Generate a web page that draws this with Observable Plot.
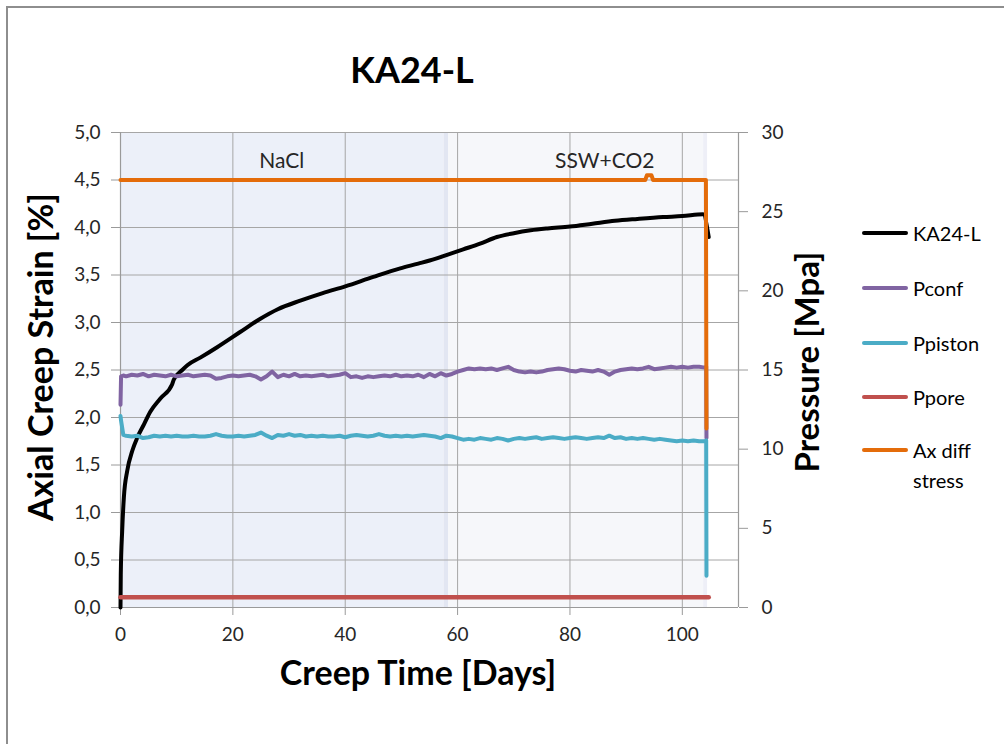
<!DOCTYPE html>
<html><head><meta charset="utf-8">
<script src="https://cdn.jsdelivr.net/npm/d3@7"></script>
<script src="https://cdn.jsdelivr.net/npm/@observablehq/plot@0.6"></script>
<style>
html,body{margin:0;padding:0;background:#fff;overflow:hidden;width:1004px;height:744px;}
#wrap{position:relative;width:1004px;height:744px;font-family:Lato,"Open Sans",sans-serif;overflow:hidden;}
#frame{position:absolute;left:6px;top:6px;width:1100px;height:900px;border:2px solid #8e8e8e;box-sizing:border-box;}
#chart{position:absolute;left:0;top:0;}
.t{position:absolute;white-space:nowrap;color:#000;line-height:1;}
.rot{transform:translate(-50%,-50%) rotate(-90deg);}
.ctr{transform:translate(-50%,-50%);}
.lg{position:absolute;font-size:20px;color:#000;white-space:nowrap;line-height:30px;}
</style></head>
<body><div id="wrap">
<div id="frame"></div>
<div id="chart"></div>
<div class="t ctr" style="left:412px;top:69px;font-size:36px;font-weight:700;">KA24-L</div>
<div class="t ctr" style="left:418px;top:672px;font-size:34px;font-weight:700;">Creep Time [Days]</div>
<div class="t rot" style="left:40px;top:357px;font-size:34px;font-weight:700;">Axial Creep Strain [%]</div>
<div class="t rot" style="left:806px;top:362px;font-size:33px;font-weight:700;">Pressure [Mpa]</div>
<div id="legend"></div>
</div>
<script>
// ---- data ----
const seriesNames = ["KA24-L", "Pconf", "Ppiston", "Ppore", "Ax diff\nstress"];
const seriesColors = ["#000000", "#8064A2", "#4BACC6", "#C0504D", "#E46C0A"];

// axial creep strain [%]
const strainDays = [0, 0.05, 0.3, 0.6, 1.2, 2.1, 3.0, 4.2, 5.3, 7.1, 9.2, 9.5, 11.0, 11.9, 14.2, 17.2, 21.3, 24.9, 28, 32, 36, 40, 45, 49.8, 53, 56, 58, 61, 64, 67, 70, 73, 76, 80, 84, 88, 92, 96.6, 100, 103.7, 104.7];
const strainValues = [0, 0.35, 0.81, 1.16, 1.44, 1.65, 1.79, 1.93, 2.06, 2.20, 2.35, 2.40, 2.50, 2.55, 2.63, 2.74, 2.90, 3.04, 3.14, 3.23, 3.31, 3.38, 3.48, 3.57, 3.62, 3.67, 3.71, 3.77, 3.83, 3.90, 3.94, 3.97, 3.99, 4.01, 4.04, 4.07, 4.09, 4.11, 4.12, 4.14, 3.90];

// daily sampling days for pressures
const pDays = [0, 0.1, 0.5, 1,2,3,4,5,6,7,8,9,10,11,12,13,14,15,16,17,18,19,20,21,22,23,24,25,26,27,28,29,30,31,32,33,34,35,36,37,38,39,40,41,42,43,44,45,46,47,48,49,50,51,52,53,54,55,56,57,58,59,60,61,62,63,64,65,66,67,68,69,70,71,72,73,74,75,76,77,78,79,80,81,82,83,84,85,86,87,88,89,90,91,92,93,94,95,96,97,98,99,100,101,102,103,104,104.25,104.3];

// Pconf [MPa]
const pconfValues = [12.8, 14.6, 14.65,
 14.6,14.7,14.65,14.75,14.6,14.7,14.65,14.6,14.7,14.6,
 14.65,14.7,14.6,14.65,14.7,14.65,14.45,14.5,14.6,14.65,
 14.6,14.65,14.7,14.6,14.4,14.6,14.9,14.55,14.7,14.6,
 14.75,14.6,14.65,14.6,14.65,14.7,14.6,14.65,14.7,14.8,
 14.55,14.6,14.5,14.6,14.55,14.6,14.65,14.6,14.7,14.6,
 14.65,14.6,14.7,14.55,14.75,14.6,14.8,14.65,14.75,14.9,
 15.0,15.1,15.05,15.1,15.05,15.1,15.0,15.1,15.2,15.0,
 14.9,14.85,14.9,14.85,14.9,15.0,15.05,15.1,15.05,14.95,
 14.9,15.0,14.95,14.9,15.0,14.9,14.7,14.9,15.0,15.05,
 15.1,15.05,15.1,15.2,15.05,15.1,15.15,15.2,15.15,15.2,
 15.15,15.2,15.2,15.15, 15.2, 10.7];

// Ppiston [MPa]
const ppistonValues = [12.1, 11.8, 10.9,
 10.85,10.8,10.85,10.7,10.75,10.85,10.8,10.85,10.8,10.85,
 10.8,10.8,10.85,10.8,10.8,10.85,10.95,10.85,10.8,10.8,
 10.85,10.8,10.85,10.9,11.05,10.85,10.7,10.9,10.85,10.95,
 10.85,10.9,10.8,10.85,10.8,10.85,10.8,10.8,10.85,10.75,
 10.85,10.9,10.85,10.8,10.85,10.95,10.85,10.8,10.85,10.8,
 10.85,10.8,10.85,10.9,10.85,10.8,10.7,10.85,10.8,10.7,
 10.6,10.65,10.6,10.7,10.65,10.6,10.7,10.65,10.55,10.65,
 10.7,10.65,10.7,10.75,10.65,10.7,10.75,10.7,10.65,10.7,
 10.75,10.7,10.65,10.7,10.75,10.7,10.85,10.7,10.75,10.65,
 10.7,10.65,10.7,10.65,10.6,10.65,10.6,10.55,10.5,10.55,
 10.5,10.55,10.5,10.5, 10.55, 2.0];

// Ppore [MPa]
const pporeDays = [0, 104.7];
const pporeValues = [0.65, 0.65];

// Axial differential stress [MPa]
const axDays = [0, 93.4, 93.7, 94.5, 94.8, 104.2, 104.3];
const axValues = [27, 27, 27.3, 27.3, 27, 27, 11.3];

// background phases
const phaseStart = [0, 57.6, 58.4, 103.8];
const phaseEnd = [57.6, 58.4, 103.8, 104.5];
const phaseColor = ["#ECF0F9", "#E2E6F2", "#F6F7FA", "#EEEFF7"];
const phaseLabels = ["NaCl", "SSW+CO2"];
const phaseLabelDays = [28.7, 86.2];
const phaseLabelY = [4.7, 4.7];

// ticks
const xTicks = [0, 20, 40, 60, 80, 100];
const yTicks = [0, 0.5, 1, 1.5, 2, 2.5, 3, 3.5, 4, 4.5, 5];
const pTicks = [0, 5, 10, 15, 20, 25, 30];
const pressureToStrain = 5 / 30;

// ---- build ----
const toRows = (days, vals) => days.map((d, i) => ({d, v: vals[i]}));
const strainRows = toRows(strainDays, strainValues);
const pconfRows = toRows(pDays, pconfValues);
const ppistonRows = toRows(pDays, ppistonValues);
const pporeRows = toRows(pporeDays, pporeValues);
const axRows = toRows(axDays, axValues);
const gridColor = "#a6a6a6";
const lw = 4;

const chart = Plot.plot({
  width: 1004, height: 744,
  marginLeft: 120, marginRight: 266, marginTop: 132, marginBottom: 137,
  x: {domain: [0, 110]},
  y: {domain: [0, 5]},
  style: {fontFamily: "Lato, 'Open Sans', sans-serif", fontSize: "19px", color: "#262626", background: "transparent"},
  marks: [
    ...phaseStart.map((s, i) => Plot.rect([i], {x1: () => phaseStart[i], x2: () => phaseEnd[i], y1: () => 0, y2: () => 5, fill: phaseColor[i]})),
    Plot.gridY(yTicks, {stroke: gridColor, strokeOpacity: 1, strokeWidth: 1}),
    Plot.gridX(xTicks, {stroke: gridColor, strokeOpacity: 1, strokeWidth: 1}),
    Plot.ruleX([0, 110], {stroke: "#9a9a9a", strokeWidth: 1.2}),
    Plot.ruleY([0], {stroke: "#9a9a9a", strokeWidth: 1.2}),
    Plot.axisY(yTicks, {anchor: "left", tickSize: 9, tickPadding: 11, stroke: "#9a9a9a", label: null, tickFormat: d => d.toFixed(1).replace(".", ",")}),
    Plot.axisY(pTicks.map(p => p * pressureToStrain), {anchor: "right", tickSize: 9, tickPadding: 14, stroke: "#9a9a9a", label: null, tickFormat: d => String(Math.round(d / pressureToStrain))}),
    Plot.axisX(xTicks, {anchor: "bottom", tickSize: 8, tickPadding: 12, stroke: "#9a9a9a", label: null}),
    Plot.text(phaseLabels, {x: (d, i) => phaseLabelDays[i], y: (d, i) => phaseLabelY[i], text: d => d, fontSize: 21, fill: "#262626"}),
    Plot.line(strainRows, {x: "d", y: "v", stroke: seriesColors[0], strokeWidth: lw, curve: "monotone-x"}),
    Plot.line(pconfRows, {x: "d", y: r => r.v * pressureToStrain, stroke: seriesColors[1], strokeWidth: lw}),
    Plot.line(ppistonRows, {x: "d", y: r => r.v * pressureToStrain, stroke: seriesColors[2], strokeWidth: lw}),
    Plot.line(pporeRows, {x: "d", y: r => r.v * pressureToStrain, stroke: seriesColors[3], strokeWidth: lw + 0.5}),
    Plot.line(axRows, {x: "d", y: r => r.v * pressureToStrain, stroke: seriesColors[4], strokeWidth: lw})
  ]
});
document.getElementById("chart").appendChild(chart);

// legend
const legendY = [233, 288, 343, 397, 450];
const lg = document.getElementById("legend");
seriesNames.forEach((name, i) => {
  const line = document.createElement("div");
  line.style.cssText = `position:absolute;left:862px;top:${legendY[i] - 2}px;width:46px;height:4px;background:${seriesColors[i]};border-radius:2px;`;
  lg.appendChild(line);
  const lines = name.split("\n");
  lines.forEach((txt, j) => {
    const t = document.createElement("div");
    t.className = "lg";
    t.textContent = txt;
    t.style.left = "913px";
    t.style.top = (legendY[i] - 15 + j * 30) + "px";
    lg.appendChild(t);
  });
});
</script>
</body></html>
